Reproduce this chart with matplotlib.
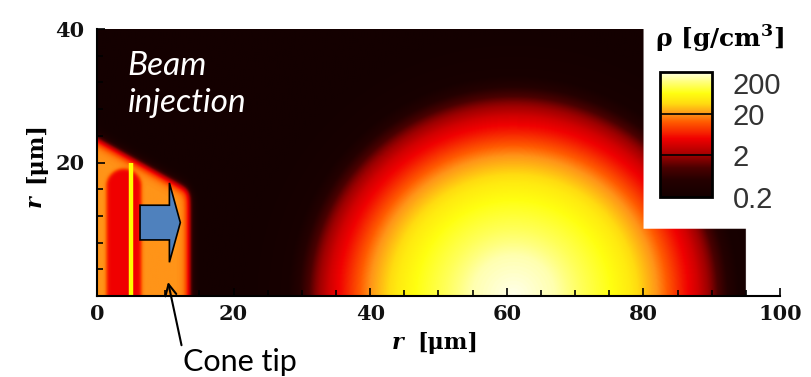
import numpy as np
import matplotlib
matplotlib.use('Agg')
import matplotlib.pyplot as plt
from matplotlib.colors import LinearSegmentedColormap, LogNorm
from matplotlib.patches import FancyArrow

# radial density profile of the compressed sphere
sphere_center = (61.0, 0.0)          # um
sphere_r = [0, 6, 10, 14, 17, 19, 21, 23, 25, 27, 29, 31, 33, 40]       # um
sphere_rho = [200, 150, 95, 65, 45, 30, 20, 11, 6, 3.5, 1.6, 0.6, 0.25, 0.2]

# cone tip: slanted top edge and the denser column inside it
cone_x_end = 13.6
cone_top = (23.6, 15.8)      # r at x=0 and at x=cone_x_end
cone_rho = 20.0
column_x = (1.4, 6.4)
column_top = 19.0
column_rho = 5.0

# computed domain (the rest is blank)
domain_x_max = 95.0
domain_notch = (80.0, 10.0)

xticks = [0, 20, 40, 60, 80, 100]
yticks = [20, 40]
cbar_ticks = [0.2, 2, 20, 200]
cbar_labels = ['0.2', '2', '20', '200']

# colormap nodes: density -> colour
cmap_rho = [0.2, 0.5, 1.0, 2.0, 5.0, 12.6, 20.0, 35.5, 63.0, 120.0, 200.0]
cmap_col = ['#140000', '#240000', '#4a0000', '#a00000', '#f00000', '#ff5a00',
            '#ff9418', '#ffdc10', '#ffff10', '#ffff80', '#ffffe8']
pos = (np.log10(cmap_rho) - np.log10(0.2)) / 3.0
pos[0], pos[-1] = 0.0, 1.0
hotcmap = LinearSegmentedColormap.from_list('hotrho', list(zip(pos, cmap_col)))
hotcmap.set_bad('white')

# build density field
x = np.linspace(0, 100, 1001)
y = np.linspace(0, 40, 401)
X, Y = np.meshgrid(x, y)
R = np.hypot(X - sphere_center[0], Y - sphere_center[1])
logrho = np.interp(R, sphere_r, np.log10(sphere_rho))

def smooth(d, w):
    return 1.0 / (1.0 + np.exp(-d / w))

top = cone_top[0] + (cone_top[1] - cone_top[0]) * X / cone_x_end
inside_cone = smooth(top - Y, 0.5) * smooth(cone_x_end - X, 0.35)
logrho = logrho + (np.log10(cone_rho) - logrho) * inside_cone
xc = 0.5 * (column_x[0] + column_x[1])
hw = 0.5 * (column_x[1] - column_x[0])
d_col = np.where(Y < column_top - hw, hw - np.abs(X - xc),
                 hw - np.hypot(X - xc, Y - (column_top - hw)))
in_col = smooth(d_col, 0.15)
logrho = logrho + (np.log10(column_rho) - logrho) * in_col

rho = 10 ** logrho
mask = (X > domain_x_max) | ((X > domain_notch[0]) & (Y > domain_notch[1]))
rho = np.ma.masked_where(mask, rho)

serif = 'DejaVu Serif'
plt.rcParams['mathtext.fontset'] = 'custom'
plt.rcParams['mathtext.bf'] = 'DejaVu Serif:bold'
plt.rcParams['mathtext.rm'] = 'DejaVu Serif:bold'

W, H = 812, 377
fig = plt.figure(figsize=(W / 100, H / 100), dpi=100)
ax = fig.add_axes([97 / W, (H - 296) / H, 683 / W, 267 / H])
im = ax.imshow(rho, origin='lower', extent=[0, 100, 0, 40], aspect='auto',
               cmap=hotcmap, norm=LogNorm(0.2, 200), interpolation='bilinear')
ax.set_xlim(0, 100)
ax.set_ylim(0, 40)
for s in ['top', 'right']:
    ax.spines[s].set_visible(False)
for s in ['left', 'bottom']:
    ax.spines[s].set_linewidth(1.5)

tick_kw = dict(fontfamily=serif, fontweight='bold', fontsize=15, color='#111111')
ax.set_xticks(xticks, labels=[str(v) for v in xticks], **tick_kw)
ax.set_yticks(yticks, labels=[str(v) for v in yticks], **tick_kw)
ax.set_xticks(np.arange(0, 101, 5), minor=True)
ax.set_yticks(np.arange(0, 41, 4), minor=True)
ax.tick_params(which='both', direction='in', width=1.2)
ax.tick_params(which='major', length=6)
ax.tick_params(which='minor', length=4)
ax.tick_params(axis='x', pad=6)
ax.tick_params(axis='y', pad=9)

# axis labels: italic r + upright unit
lab_kw = dict(fontfamily=serif, fontweight='bold', fontsize=16)
fig.text(392 / W, 1 - 349 / H, 'r', style='italic', ha='left', va='baseline', **lab_kw)
fig.text(417 / W, 1 - 349 / H, '[μm]', ha='left', va='baseline', **lab_kw)
fig.text(46 / W, 1 - 201 / H, 'r', style='italic', rotation=90, ha='right',
         va='center', **lab_kw)
fig.text(46 / W, 1 - 153 / H, '[μm]', rotation=90, ha='right', va='center', **lab_kw)

# annotations
ax.plot([5, 5], [0, 20], color='#ffff00', lw=3.2, solid_capstyle='butt')
ax.add_patch(FancyArrow(6.3, 11.0, 5.9, 0, width=5.2, head_width=11.9,
                        head_length=1.6, length_includes_head=True,
                        facecolor='#4f81bd', edgecolor='black', lw=1.2))
ax.text(4.5, 33.1, 'Beam', color='white', style='italic', fontfamily='Lato',
        fontsize=24, va='baseline', ha='left')
ax.text(4.5, 27.5, 'injection', color='white', style='italic', fontfamily='Lato',
        fontsize=24, va='baseline', ha='left')
ax.annotate('Cone tip', xy=(10.4, 2.1), xytext=(183, 377 - 371),
            textcoords='figure pixels', fontfamily='Lato', fontsize=22,
            ha='left', va='baseline', annotation_clip=False,
            arrowprops=dict(arrowstyle='->', color='black', lw=1.5,
                            relpos=(0, 0.85), shrinkA=0, shrinkB=0,
                            mutation_scale=20))

# colorbar
cax = fig.add_axes([660 / W, (H - 197) / H, 52 / W, 125 / H])
cb = fig.colorbar(im, cax=cax)
cb.set_ticks(cbar_ticks)
cb.set_ticklabels(cbar_labels)
cb.minorticks_off()
cax.tick_params(length=0, labelsize=21, pad=15, labelcolor='#333333')
for lab in cax.get_yticklabels():
    lab.set_fontfamily('Liberation Sans')
cax.get_yticklabels()[-1].set_va('top')
cb.outline.set_linewidth(2)
cax.axhline(2, color='black', lw=1.2)
cax.axhline(20, color='black', lw=1.2)
fig.text(655 / W, 1 - 47 / H, r'ρ [g/cm$^{\mathbf{3}}$]', fontfamily=serif,
         fontweight='bold', fontsize=18, ha='left', va='baseline')

fig.savefig('out.png', dpi=100)
